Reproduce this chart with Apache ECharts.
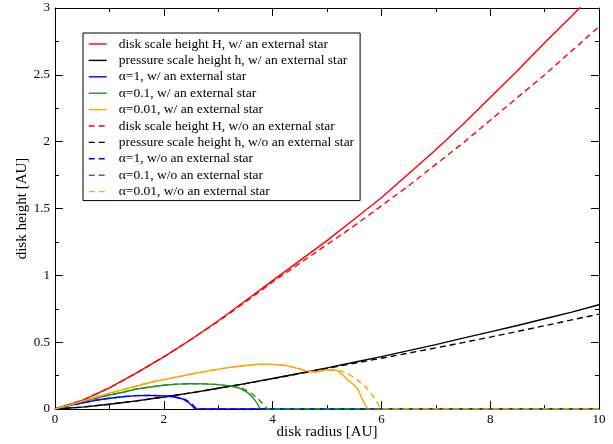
<!DOCTYPE html>
<html>
<head>
<meta charset="utf-8">
<script src="https://cdn.jsdelivr.net/npm/echarts@6/dist/echarts.min.js"></script>
<style>
  html, body { margin: 0; background: #fff; }
  #chart { width: 613px; height: 444px; }
</style>
</head>
<body>
<div id="chart"></div>
<script>
// radius grid [AU] for the smooth scale-height curves
const radiusGrid = [0, 0.5, 1, 1.5, 2, 2.5, 3, 3.5, 4, 4.5, 5, 5.5, 6, 6.5, 7, 7.5, 8, 8.5, 9, 9.5, 10]

const diskHWith = [0, 0.064, 0.158, 0.27, 0.39, 0.52, 0.66, 0.81, 0.96, 1.11, 1.26, 1.42, 1.58, 1.76, 1.94, 2.13, 2.33, 2.53, 2.74, 2.94, 3.15]
const diskHWithout = [0, 0.064, 0.158, 0.27, 0.39, 0.52, 0.655, 0.80, 0.95, 1.09, 1.23, 1.37, 1.52, 1.67, 1.83, 1.99, 2.16, 2.33, 2.50, 2.68, 2.86]
const pressHWith = [0, 0.014, 0.036, 0.061, 0.09, 0.121, 0.155, 0.19, 0.228, 0.267, 0.308, 0.35, 0.392, 0.437, 0.482, 0.53, 0.577, 0.625, 0.675, 0.725, 0.78]
const pressHWithout = [0, 0.014, 0.036, 0.061, 0.09, 0.121, 0.155, 0.19, 0.227, 0.265, 0.304, 0.342, 0.38, 0.418, 0.457, 0.497, 0.538, 0.58, 0.623, 0.667, 0.71]

// [radius, height] for the alpha curves
const alpha1With = [[0, 0], [0.25, 0.025], [0.5, 0.045], [0.75, 0.065], [1, 0.08], [1.25, 0.092], [1.5, 0.1], [1.75, 0.102], [2, 0.098], [2.2, 0.09], [2.35, 0.075], [2.45, 0.05], [2.52, 0.025], [2.57, 0], [10, 0]]
const alpha1Without = [[0, 0], [0.25, 0.025], [0.5, 0.045], [0.75, 0.065], [1, 0.08], [1.25, 0.092], [1.5, 0.1], [1.75, 0.102], [2, 0.098], [2.2, 0.09], [2.37, 0.075], [2.48, 0.05], [2.55, 0.025], [2.6, 0], [10, 0]]
const alpha01With = [[0, 0], [0.25, 0.028], [0.5, 0.055], [0.75, 0.08], [1, 0.105], [1.25, 0.125], [1.5, 0.15], [1.75, 0.165], [2, 0.178], [2.25, 0.186], [2.5, 0.19], [2.75, 0.188], [3, 0.182], [3.25, 0.17], [3.4, 0.155], [3.55, 0.12], [3.65, 0.08], [3.72, 0.04], [3.77, 0], [10, 0]]
const alpha01Without = [[0, 0], [0.25, 0.028], [0.5, 0.055], [0.75, 0.08], [1, 0.105], [1.25, 0.125], [1.5, 0.15], [1.75, 0.165], [2, 0.178], [2.25, 0.186], [2.5, 0.19], [2.75, 0.188], [3, 0.182], [3.25, 0.17], [3.45, 0.155], [3.6, 0.12], [3.72, 0.08], [3.82, 0.04], [3.9, 0], [10, 0]]
const alpha001With = [[0, 0], [0.25, 0.028], [0.5, 0.058], [0.75, 0.088], [1, 0.118], [1.25, 0.145], [1.5, 0.172], [1.75, 0.198], [2, 0.22], [2.25, 0.24], [2.5, 0.26], [2.75, 0.28], [3, 0.298], [3.25, 0.313], [3.5, 0.325], [3.75, 0.335], [4, 0.334], [4.25, 0.325], [4.5, 0.3], [4.65, 0.28], [4.8, 0.275], [4.95, 0.29], [5.1, 0.295], [5.2, 0.285], [5.3, 0.25], [5.4, 0.21], [5.5, 0.18], [5.58, 0.14], [5.65, 0.07], [5.72, 0.02], [5.75, 0], [10, 0]]
const alpha001Without = [[0, 0], [0.25, 0.028], [0.5, 0.058], [0.75, 0.088], [1, 0.118], [1.25, 0.145], [1.5, 0.172], [1.75, 0.198], [2, 0.22], [2.25, 0.24], [2.5, 0.26], [2.75, 0.28], [3, 0.298], [3.25, 0.313], [3.5, 0.325], [3.75, 0.335], [4, 0.334], [4.25, 0.325], [4.5, 0.3], [4.65, 0.28], [4.8, 0.28], [4.95, 0.29], [5.1, 0.29], [5.25, 0.285], [5.4, 0.26], [5.55, 0.22], [5.7, 0.17], [5.82, 0.11], [5.92, 0.05], [6.0, 0], [10, 0]]

const font = 'Liberation Serif'
const dash = [6, 4]

const zip = (ys) => radiusGrid.map((r, i) => [r, ys[i]])

const line = (name, data, color, dashed) => ({
  name,
  type: 'line',
  data,
  symbol: 'none',
  smooth: false,
  lineStyle: { color, width: 1.4, type: dashed ? dash : 'solid' },
  itemStyle: { color }
})

const axisCommon = {
  type: 'value',
  axisLine: { show: true, onZero: false, lineStyle: { color: '#000', width: 1 } },
  axisTick: { show: true, inside: true, length: 8, lineStyle: { color: '#000' } },
  minorTick: { show: true, splitNumber: 2, length: 4, lineStyle: { color: '#000' } },
  splitLine: { show: false },
  axisLabel: { color: '#000', fontFamily: font, fontSize: 13, margin: 4 }
}

let chart = echarts.init(document.getElementById('chart'))

let opts = {
  animation: false,
  grid: { left: 55, right: 14, top: 8, bottom: 35, outerBoundsMode: 'none', containLabel: false },
  legend: {
    orient: 'vertical',
    left: 83,
    top: 33,
    itemWidth: 18,
    itemHeight: 14,
    itemGap: 2.4,
    padding: [4, 6, 2, 5],
    backgroundColor: '#fff',
    borderColor: '#000',
    borderWidth: 1,
    itemStyle: { color: 'transparent', borderColor: 'transparent', borderWidth: 0 },
    lineStyle: { width: 1.4 },
    textStyle: { fontFamily: font, fontSize: 13.5, color: '#000', lineHeight: 14, padding: [0, 0, 0, 7] }
  },
  xAxis: [
    Object.assign({}, axisCommon, {
      min: 0, max: 10, interval: 2, position: 'bottom',
      name: 'disk radius [AU]', nameLocation: 'middle', nameGap: 16, nameMoveOverlap: false,
      nameTextStyle: { color: '#000', fontFamily: font, fontSize: 15 }
    }),
    Object.assign({}, axisCommon, {
      min: 0, max: 10, interval: 2, position: 'top',
      axisLabel: { show: false }
    })
  ],
  yAxis: [
    Object.assign({}, axisCommon, {
      min: 0, max: 3, interval: 0.5, position: 'left',
      axisLabel: Object.assign({}, axisCommon.axisLabel, { margin: 5 }),
      name: 'disk height [AU]', nameLocation: 'middle', nameGap: 25, nameMoveOverlap: false,
      nameTextStyle: { color: '#000', fontFamily: font, fontSize: 15 }
    }),
    Object.assign({}, axisCommon, {
      min: 0, max: 3, interval: 0.5, position: 'right',
      axisLabel: { show: false }
    })
  ],
  series: [
    line('disk scale height H, w/ an external star', zip(diskHWith), '#ff0000', false),
    line('pressure scale height h, w/ an external star', zip(pressHWith), '#000000', false),
    line('α=1, w/ an external star', alpha1With, '#0000ff', false),
    line('α=0.1, w/ an external star', alpha01With, '#1a961a', false),
    line('α=0.01, w/ an external star', alpha001With, '#ffa500', false),
    line('disk scale height H, w/o an external star', zip(diskHWithout), '#ff0000', true),
    line('pressure scale height h, w/o an external star', zip(pressHWithout), '#000000', true),
    line('α=1, w/o an external star', alpha1Without, '#0000ff', true),
    line('α=0.1, w/o an external star', alpha01Without, '#1a961a', true),
    line('α=0.01, w/o an external star', alpha001Without, '#ffa500', true)
  ]
}
chart.setOption(opts)
</script>
</body>
</html>
